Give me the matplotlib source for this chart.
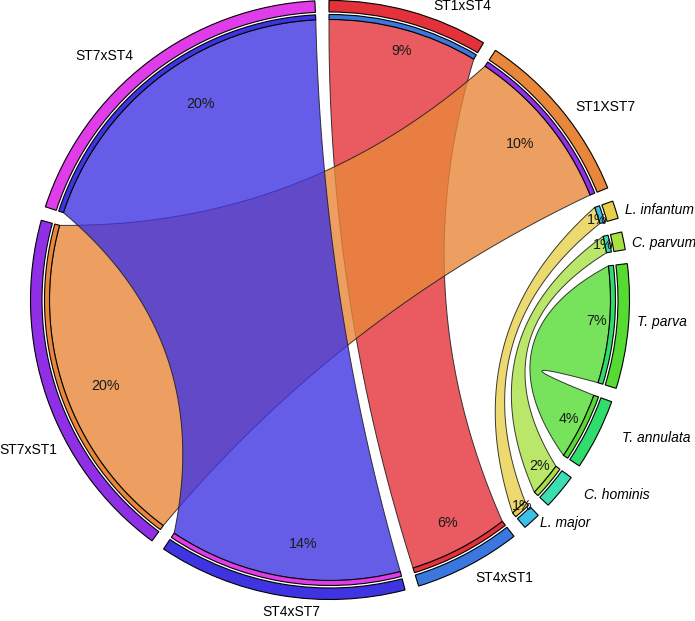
import numpy as np
import matplotlib
matplotlib.use("Agg")
import matplotlib.pyplot as plt
from matplotlib.patches import Wedge, Polygon
from matplotlib.colors import to_rgba

# ---------------- data ----------------
sectors = ["ST1xST4", "ST1XST7", "L. infantum", "C. parvum", "T. parva",
           "T. annulata", "C. hominis", "L. major", "ST4xST1", "ST4xST7",
           "ST7xST1", "ST7xST4"]
percent = [9, 10, 1, 1, 7, 4, 2, 1, 6, 14, 20, 20]
species = ["L. infantum", "C. parvum", "T. parva", "T. annulata",
           "C. hominis", "L. major"]
# links (ribbon colour taken from the first sector)
links = [("ST1xST4", "ST4xST1"),
         ("ST1XST7", "ST7xST1"),
         ("ST4xST7", "ST7xST4"),
         ("L. infantum", "L. major"),
         ("C. parvum", "C. hominis"),
         ("T. parva", "T. annulata")]

# ---------------- style / layout ----------------
colors = {
    "ST1xST4": "#E4323A", "ST1XST7": "#E8873A", "L. infantum": "#E8D04C",
    "C. parvum": "#A9E044", "T. parva": "#55DB32", "T. annulata": "#2FDC6C",
    "C. hominis": "#3BDEB0", "L. major": "#3DC0E8", "ST4xST1": "#3A78E0",
    "ST4xST7": "#3F34E2", "ST7xST1": "#9030E6", "ST7xST4": "#E03CEA",
}
# name label anchor (angle clockwise from top in degrees, radius in px)
label_pos = {
    "ST1xST4": (24.1, 323), "ST1XST7": (54.9, 337), "L. infantum": (74.6, 342),
    "C. parvum": (80.1, 339), "T. parva": (93.6, 333), "T. annulata": (112.8, 354),
    "C. hominis": (124.1, 346), "L. major": (133.4, 323), "ST4xST1": (147.9, 327),
    "ST4xST7": (187.1, 313.5), "ST7xST1": (243.7, 337), "ST7xST4": (317.4, 333),
}
# percentage label anchor (angle, radius)
pct_pos = {
    "ST1xST4": (16.1, 260), "ST1XST7": (50.4, 246.5), "L. infantum": (73.1, 279),
    "C. parvum": (78.4, 278.7), "T. parva": (94.3, 267.7), "T. annulata": (116.3, 266.5),
    "C. hominis": (128.2, 267), "L. major": (136.9, 280.9), "ST4xST1": (152.0, 251),
    "ST4xST7": (186.3, 244.5), "ST7xST1": (249.3, 240.5), "ST7xST4": (326.6, 236),
}

W, H = 695, 621
CX, CY = 330, 300
fig = plt.figure(figsize=(W / 100, H / 100), dpi=100)
ax = fig.add_axes([0, 0, 1, 1])
ax.set_xlim(-CX, W - CX)
ax.set_ylim(-(H - CY), CY)
ax.set_aspect("equal")
ax.axis("off")

R_OUT, R_IN = 299.5, 288.0
B_OUT, B_IN = 285.5, 280.5
R_LINK = B_IN
GAP = 2.7
START = -0.2
HK = 3.4            # link height factor
unit = (360 - len(sectors) * GAP) / sum(percent)

span = {}
a = START
for s, p in zip(sectors, percent):
    span[s] = (a, a + p * unit)
    a += p * unit + GAP

partner = {}
for s1, s2 in links:
    partner[s1] = s2
    partner[s2] = s1


def pt(theta, r):
    t = np.radians(theta)
    return np.array([r * np.sin(t), r * np.cos(t)])


def arc(t1, t2, r, n=80):
    th = np.radians(np.linspace(t1, t2, n))
    return np.column_stack([r * np.sin(th), r * np.cos(th)])


def bez(p, q, n=150):
    m = (p + q) / 2
    d = np.hypot(*m)
    h = HK * np.sqrt(d)
    c = m / d * (d - 2 * h)
    t = np.linspace(0, 1, n)[:, None]
    return (1 - t) ** 2 * p + 2 * (1 - t) * t * c + t ** 2 * q


def to_mpl(theta):
    return 90 - theta


# ribbons
for s1, s2 in links:
    a1, a2 = span[s1]
    b1, b2 = span[s2]
    pts = np.vstack([
        arc(a1, a2, R_LINK),
        bez(pt(a2, R_LINK), pt(b1, R_LINK)),
        arc(b1, b2, R_LINK),
        bez(pt(b2, R_LINK), pt(a1, R_LINK)),
    ])
    fc = to_rgba(colors[s1], 0.8)
    ax.add_patch(Polygon(pts, closed=True, facecolor=fc,
                         edgecolor=(0.1, 0.1, 0.1, 0.85), lw=0.7, zorder=2))

# sector rings and target bands
for s in sectors:
    t1, t2 = span[s]
    ax.add_patch(Wedge((0, 0), R_OUT, to_mpl(t2), to_mpl(t1), width=R_OUT - R_IN,
                       facecolor=colors[s], edgecolor="black", lw=0.8, zorder=3))
    ax.add_patch(Wedge((0, 0), B_OUT, to_mpl(t2), to_mpl(t1), width=B_OUT - B_IN,
                       facecolor=colors[partner[s]], edgecolor="black", lw=0.8, zorder=3))

CAP = 5.0  # half cap height in px, used to centre capitals visually

# percentages
for s, p in zip(sectors, percent):
    th, r = pct_pos[s]
    x, y = pt(th, r)
    ax.text(x, y - CAP, f"{p}%", ha="center", va="baseline", fontsize=10.3,
            family="Liberation Sans", color="#1a1a1a", zorder=4)

# sector names
for s in sectors:
    th, r = label_pos[s]
    x, y = pt(th, r)
    ax.text(x, y - CAP, s, ha="center", va="baseline", fontsize=10,
            family="Liberation Sans",
            style="italic" if s in species else "normal", color="black", zorder=4)

fig.savefig("out.png", dpi=100, facecolor="white")
